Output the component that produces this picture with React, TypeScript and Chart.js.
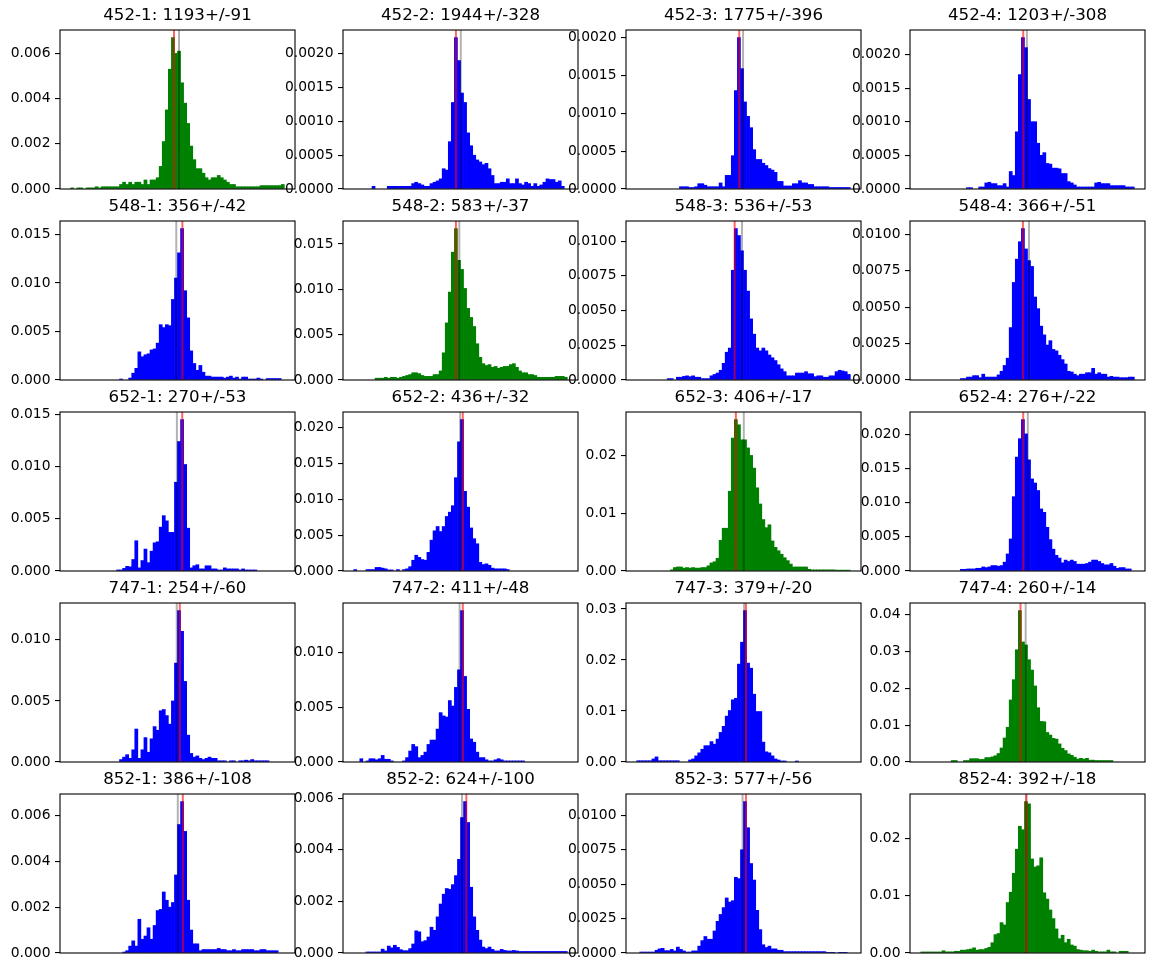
import React, { useEffect, useRef } from "react";
import { Chart, registerables } from "chart.js";

Chart.register(...registerables);

// Histogram densities, 70 equal-width bins per station/channel.
const hist452_1 = [
  0.00005, 0, 0.00005, 0.00005, 0, 0.00005, 0.00005, 0.00005, 0.0001, 0.00005,
  0.0001, 0.0001, 0.0001, 0.0001, 0.0001, 0.0001, 0.0002, 0.0003, 0.0002, 0.0003,
  0.0002, 0.0003, 0.0003, 0.0002, 0.0004, 0.0002, 0.0004, 0.0004, 0.0005, 0.001,
  0.0021, 0.0035, 0.0053, 0.0067, 0.006, 0.0061, 0.0047, 0.0038, 0.0029, 0.0019,
  0.0013, 0.0009, 0.0009, 0.0007, 0.0005, 0.0004, 0.0005, 0.0005, 0.0006, 0.0005,
  0.0004, 0.0003, 0.0002, 0.0002, 0.0001, 0.0001, 0.0001, 0.0001, 0.0001, 0.0001,
  0.0001, 0.0001, 0.00015, 0.00015, 0.00015, 0.00015, 0.00015, 0.00015, 0.00015, 0.0002,
];
const hist452_2 = [
  0, 0, 0, 0, 0, 0, 0.00004, 0, 0, 0,
  0, 0.00004, 0.00004, 0.00004, 0.00004, 0.00004, 0.00004, 0.00004, 0.00004, 0.00008,
  0.0001, 0.00008, 0.00006, 0.00004, 0.00004, 0.00008, 0.0001, 0.00012, 0.00015, 0.0003,
  0.00028, 0.0007, 0.00128, 0.00224, 0.0019, 0.00142, 0.00128, 0.00083, 0.00064, 0.0005,
  0.00043, 0.0004, 0.00036, 0.00038, 0.0003, 0.0002, 0.00008, 0.00008, 0.0001, 0.0001,
  0.00015, 0.00008, 0.00008, 0.00015, 0.00008, 0.00006, 0.0001, 0.00008, 0.00004, 0.00008,
  0.00004, 0.00006, 0.0001, 0.00015, 0.00014, 0.00014, 0.0001, 0.00012, 0.00004, 0,
];
const hist452_3 = [
  0, 0, 0, 0, 0, 0, 0, 0, 0, 0,
  0, 0, 0, 0, 0.00003, 0.00003, 0.00003, 0.00002, 0.00002, 0.00003,
  0.00007, 0.00007, 0.00005, 0.00003, 0.00003, 0.00003, 0.00003, 0.00008, 0.00003, 0.00018,
  0.00018, 0.00044, 0.0013, 0.002, 0.00159, 0.00115, 0.00096, 0.00081, 0.00052, 0.00039,
  0.00039, 0.00034, 0.00031, 0.00027, 0.00025, 0.00022, 0.0001, 0.0001, 0.00004, 0.00004,
  0.00004, 0.00007, 0.00007, 0.00011, 0.00008, 0.00008, 0.00006, 0.00006, 0.00003, 0.00003,
  0.00003, 0.00003, 0.00003, 0.00002, 0.00002, 0.00002, 0.00002, 0.00002, 0.00002, 0.00002,
];
const hist452_4 = [
  0, 0, 0, 0, 0, 0, 0, 0, 0, 0,
  0, 0, 0, 0, 0, 0.00002, 0.00002, 0, 0, 0.00003,
  0.00003, 0.00009, 0.0001, 0.00008, 0.00008, 0.00005, 0.00005, 0.00008, 0.00003, 0.00026,
  0.0002, 0.00085, 0.0017, 0.00225, 0.0021, 0.00133, 0.001, 0.001, 0.00068, 0.0005,
  0.00054, 0.00038, 0.00037, 0.00031, 0.00031, 0.0003, 0.00023, 0.00023, 0.00011, 0.00009,
  0.00006, 0.00003, 0.00003, 0.00003, 0.00003, 0.00003, 0.00003, 0.00009, 0.0001, 0.00008,
  0.00008, 0.00008, 0.00005, 0.00005, 0.00005, 0.00005, 0.00005, 0.00003, 0.00003, 0.00003,
];
const hist548_1 = [
  0, 0, 0, 0, 0, 0, 0, 0, 0, 0,
  0, 0, 0, 0, 0, 0, 0.0001, 0, 0, 0.0002,
  0.0007, 0.0012, 0.0029, 0.0024, 0.0026, 0.0027, 0.0031, 0.0032, 0.0038, 0.0057,
  0.0054, 0.0057, 0.0056, 0.0083, 0.0105, 0.0131, 0.0156, 0.0092, 0.0064, 0.003,
  0.0017, 0.001, 0.0015, 0.0008, 0.0004, 0.0004, 0.0003, 0.0003, 0.0003, 0.0003,
  0.0002, 0.0003, 0.0004, 0.0002, 0.0003, 0.0001, 0.0003, 0.0003, 0.0001, 0.0001,
  0.0001, 0.0002, 0.0001, 0, 0.00015, 0.00015, 0.00015, 0.00015, 0.00015, 0,
];
const hist548_2 = [
  0, 0, 0, 0, 0, 0, 0, 0.0002, 0.0002, 0.0002,
  0.0003, 0.0002, 0.0003, 0.0003, 0.0002, 0.0003, 0.0004, 0.0005, 0.0006, 0.0008,
  0.0008, 0.0007, 0.0005, 0.0004, 0.0004, 0.0004, 0.0006, 0.0006, 0.001, 0.003,
  0.0063, 0.0097, 0.0141, 0.0167, 0.0132, 0.0122, 0.0101, 0.0079, 0.0069, 0.0059,
  0.004, 0.0025, 0.0018, 0.0016, 0.0017, 0.0014, 0.0015, 0.0013, 0.0014, 0.0015,
  0.0015, 0.0017, 0.0018, 0.0014, 0.001, 0.0008, 0.0008, 0.0006, 0.0006, 0.0005,
  0.0003, 0.0003, 0.0003, 0.0003, 0.0003, 0.0003, 0.0004, 0.0004, 0.0004, 0.0003,
];
const hist548_3 = [
  0, 0, 0, 0, 0, 0, 0, 0, 0, 0,
  0.0001, 0.0001, 0, 0.0002, 0.0002, 0.00026, 0.0003, 0.00024, 0.0003, 0.0002,
  0.0002, 0.0001, 0.0001, 0.0001, 0.0003, 0.0004, 0.0005, 0.0007, 0.0012, 0.002,
  0.0023, 0.0079, 0.0109, 0.0104, 0.0093, 0.0079, 0.0064, 0.0044, 0.0033, 0.0023,
  0.0021, 0.0023, 0.0021, 0.0018, 0.0016, 0.0014, 0.0011, 0.0008, 0.0006, 0.0003,
  0.0003, 0.0003, 0.0005, 0.0005, 0.0005, 0.0006, 0.00045, 0.00045, 0.00024, 0.0003,
  0.0003, 0.0002, 0.0002, 0.0003, 0.0003, 0.0006, 0.0007, 0.00065, 0.0006, 0.0004,
];
const hist548_4 = [
  0, 0, 0, 0, 0, 0, 0, 0, 0, 0,
  0, 0, 0, 0.0001, 0.0001, 0.0002, 0.0002, 0.0003, 0.0003, 0.00016,
  0.0004, 0.0002, 0.0002, 0.0002, 0.0002, 0.00035, 0.0006, 0.001, 0.0015, 0.0036,
  0.0067, 0.0083, 0.0095, 0.0104, 0.009, 0.0082, 0.0078, 0.0057, 0.0049, 0.0037,
  0.0031, 0.0024, 0.0027, 0.0021, 0.002, 0.0017, 0.0014, 0.0011, 0.0006, 0.00055,
  0.0004, 0.0003, 0.0004, 0.0004, 0.0005, 0.0005, 0.0008, 0.0004, 0.0005, 0.0004,
  0.0004, 0.0002, 0.00025, 0.0002, 0.0002, 0.00016, 0.00016, 0.00016, 0.0002, 0.0002,
];
const hist652_1 = [
  0, 0, 0, 0, 0, 0, 0, 0, 0, 0,
  0, 0, 0, 0, 0, 0.0001, 0.0001, 0.00025, 0.00045, 0.0004,
  0.0011, 0.0029, 0.0003, 0.001, 0.0021, 0.0008, 0.0019, 0.0027, 0.0028, 0.0042,
  0.0053, 0.0048, 0.0037, 0.0037, 0.0085, 0.0124, 0.0145, 0.0102, 0.0041, 0.0003,
  0.0005, 0.0006, 0.0002, 0.0002, 0.0005, 0.0005, 0.0002, 0.0002, 0.0001, 0.0001,
  0.0003, 0.0002, 0.0002, 0.0002, 0.0002, 0.0001, 0.0002, 0.0001, 0.0001, 0.0001,
  0.0001, 0, 0, 0, 0, 0, 0, 0, 0, 0,
];
const hist652_2 = [
  0.0002, 0, 0, 0, 0.0002, 0.0002, 0.0002, 0.0005, 0.0005, 0.0004,
  0.0003, 0.00015, 0.00015, 0, 0.0002, 0, 0.0002, 0.0003, 0.0006, 0.0015,
  0.0022, 0.0019, 0.0016, 0.0015, 0.0026, 0.0043, 0.0056, 0.0062, 0.0055, 0.0062,
  0.0076, 0.0082, 0.0091, 0.013, 0.018, 0.0211, 0.0111, 0.0089, 0.006, 0.0045,
  0.0038, 0.0012, 0.0009, 0.001, 0.0008, 0.0004, 0.0003, 0.0003, 0.0003, 0.0003,
  0.0002, 0, 0, 0, 0, 0, 0, 0, 0, 0,
  0, 0, 0, 0, 0, 0, 0, 0, 0, 0,
];
const hist652_3 = [
  0, 0, 0, 0, 0, 0, 0, 0, 0, 0,
  0, 0.0002, 0.0006, 0.0007, 0.0007, 0.0005, 0.0006, 0.0005, 0.0006, 0.0005,
  0.0005, 0.0006, 0.0006, 0.0009, 0.0014, 0.0016, 0.0022, 0.0053, 0.0074, 0.0074,
  0.0138, 0.023, 0.0262, 0.0253, 0.0227, 0.0227, 0.0213, 0.02, 0.0178, 0.0144,
  0.0116, 0.0089, 0.0075, 0.008, 0.0052, 0.0041, 0.0035, 0.0029, 0.0023, 0.0018,
  0.0012, 0.0007, 0.0007, 0.0007, 0.0007, 0.0007, 0.0003, 0.0002, 0.0002, 0.0002,
  0.0002, 0.0002, 0.0002, 0.0002, 0.0002, 0.00015, 0.00015, 0.00015, 0.00015, 0.00015,
];
const hist652_4 = [
  0, 0, 0, 0, 0, 0, 0, 0, 0, 0,
  0, 0, 0, 0.00025, 0.00025, 0.0003, 0.0003, 0.0003, 0.0004, 0.0004,
  0.0006, 0.0005, 0.0006, 0.0008, 0.0008, 0.0007, 0.0008, 0.0013, 0.0025, 0.0047,
  0.0109, 0.0167, 0.0194, 0.0222, 0.0201, 0.0163, 0.0135, 0.0129, 0.0118, 0.0091,
  0.0086, 0.0064, 0.0046, 0.0032, 0.0023, 0.0019, 0.0012, 0.0016, 0.0014, 0.0016,
  0.0014, 0.001, 0.001, 0.001, 0.0011, 0.0013, 0.0016, 0.0016, 0.0014, 0.0011,
  0.0009, 0.0009, 0.0011, 0.0007, 0.0004, 0.0005, 0.0005, 0.0003, 0.0003, 0,
];
const hist747_1 = [
  0, 0, 0, 0, 0, 0, 0, 0, 0, 0,
  0, 0, 0, 0, 0, 0, 0.0002, 0.0004, 0.0006, 0.0003,
  0.001, 0.0027, 0.0003, 0.001, 0.002, 0.0008, 0.0019, 0.0029, 0.0026, 0.0042,
  0.0043, 0.0038, 0.0031, 0.005, 0.0081, 0.0124, 0.0107, 0.0066, 0.0022, 0.0007,
  0.0004, 0.0005, 0.0003, 0.0002, 0.0003, 0.0004, 0.0003, 0.0003, 0.0001, 0.0001,
  0.0001, 0, 0.0001, 0.0001, 0, 0.0001, 0.0001, 0.00015, 0.0001, 0.0002,
  0.0001, 0.0001, 0.0001, 0.0001, 0.0001, 0, 0, 0, 0, 0,
];
const hist747_2 = [
  0, 0, 0.0003, 0, 0.0001, 0.0003, 0.0003, 0.0002, 0.0003, 0.0006,
  0.00025, 0.00025, 0.0001, 0, 0, 0, 0.0001, 0.0004, 0.001, 0.0016,
  0.0014, 0.0004, 0.0006, 0.0009, 0.0016, 0.002, 0.002, 0.003, 0.0045, 0.0042,
  0.0041, 0.0056, 0.0051, 0.0068, 0.0084, 0.0138, 0.0078, 0.0048, 0.0021, 0.0018,
  0.0009, 0.0004, 0.0004, 0.0002, 0.0001, 0.0001, 0.0002, 0.0003, 0.0002, 0.0001,
  0.0001, 0.0001, 0.0001, 0.0001, 0.0001, 0.0001, 0, 0, 0, 0,
  0, 0, 0, 0, 0, 0, 0, 0, 0, 0,
];
const hist747_3 = [
  0.00025, 0.00025, 0.00025, 0.00025, 0.00025, 0.0006, 0.001, 0.00025, 0.00025, 0.00025,
  0.00025, 0.00025, 0.00025, 0.00025, 0, 0, 0, 0.0004, 0.0006, 0.0012,
  0.0018, 0.0025, 0.0032, 0.0032, 0.004, 0.0035, 0.0045, 0.0058, 0.007, 0.009,
  0.0101, 0.0122, 0.0125, 0.0192, 0.0235, 0.0297, 0.0194, 0.0184, 0.0133, 0.0099,
  0.0099, 0.0039, 0.002, 0.0018, 0.0012, 0.0006, 0.0004, 0.0002, 0.0002, 0,
  0, 0, 0.0002, 0, 0, 0, 0, 0, 0, 0,
  0, 0, 0, 0, 0, 0, 0, 0, 0, 0,
];
const hist747_4 = [
  0, 0, 0, 0, 0, 0, 0, 0, 0, 0,
  0.0004, 0.0004, 0, 0, 0.0004, 0.0004, 0.0009, 0.0009, 0.0009, 0.0007,
  0.0007, 0.0012, 0.0012, 0.0014, 0.0017, 0.0023, 0.0038, 0.0065, 0.0094, 0.0168,
  0.0223, 0.0304, 0.041, 0.0325, 0.0317, 0.0277, 0.0249, 0.0206, 0.0147, 0.011,
  0.0109, 0.008, 0.0073, 0.0064, 0.0062, 0.0049, 0.0037, 0.0031, 0.0022, 0.0018,
  0.0013, 0.0008, 0.001, 0.0008, 0.001, 0.0005, 0.0005, 0.0004, 0.0004, 0.0004,
  0.0004, 0.0004, 0.0004, 0, 0, 0, 0, 0, 0, 0,
];
const hist852_1 = [
  0, 0, 0, 0, 0, 0, 0, 0, 0, 0,
  0, 0, 0, 0, 0, 0, 0, 0.00004, 0.0001, 0.0003,
  0.00053, 0.0003, 0.00147, 0.0006, 0.00074, 0.0011, 0.0006, 0.0012, 0.00185, 0.0019,
  0.00266, 0.0023, 0.002, 0.0022, 0.0034, 0.0056, 0.0066, 0.0053, 0.0023, 0.001,
  0.0004, 0.0004, 0.0001, 0.00015, 0.00015, 0.00015, 0.00015, 0.00015, 0.0002, 0.00015,
  0.00015, 0.0001, 0.0001, 0.00015, 0.0001, 0.0001, 0.00015, 0.00015, 0.00015, 0.00015,
  0.0001, 0.0001, 0.00015, 0.00015, 0.0001, 0.0001, 0.0001, 0.0001, 0, 0,
];
const hist852_2 = [
  0, 0, 0, 0, 0.00004, 0.00004, 0.00004, 0.00004, 0.00004, 0.00015,
  0.00008, 0.00027, 0.0002, 0.0003, 0.00022, 0.00013, 0.00009, 0.00009, 0.00017, 0.00035,
  0.00086, 0.00082, 0.00044, 0.00048, 0.00062, 0.001, 0.00088, 0.0014, 0.0019, 0.00228,
  0.0025, 0.00247, 0.00265, 0.003, 0.00363, 0.00525, 0.00587, 0.00506, 0.00255, 0.0014,
  0.00088, 0.0005, 0.00023, 0.00017, 0.00023, 0.00014, 0.00008, 0.00008, 0.00014, 0.0001,
  0.00008, 0.00008, 0.0001, 0.00008, 0.00006, 0.00006, 0.00006, 0.00006, 0.00006, 0.00006,
  0.00006, 0.00006, 0.00006, 0.00006, 0.00006, 0.00006, 0.00006, 0.00006, 0.00006, 0.00006,
];
const hist852_3 = [
  0, 0.00007, 0.00007, 0.00007, 0.00007, 0.00007, 0.0002, 0.0003, 0.00034, 0.00017,
  0.00017, 0.00026, 0.00015, 0.00043, 0.00026, 0.00015, 0.00007, 0.00007, 0.00015, 0.00015,
  0.0005, 0.0009, 0.0012, 0.001, 0.001, 0.0016, 0.0023, 0.0028, 0.0033, 0.004,
  0.0037, 0.0038, 0.0055, 0.0054, 0.0075, 0.011, 0.0091, 0.0065, 0.0053, 0.0031,
  0.0017, 0.0006, 0.0004, 0.0005, 0.0003, 0.0003, 0.0002, 0.0002, 0.0001, 0.0001,
  0.0001, 0.0001, 0.0001, 0.0001, 0.0001, 0.0001, 0.0001, 0.0001, 0.0001, 0.0001,
  0.0001, 0.0001, 0.00005, 0.00005, 0.00005, 0, 0.00005, 0.00005, 0.00005, 0,
];
const hist852_4 = [
  0.00018, 0.00018, 0.00018, 0.00018, 0.00018, 0.00018, 0.00018, 0.0004, 0.0002, 0.0002,
  0.0002, 0.0003, 0.0003, 0.0005, 0.0005, 0.0006, 0.0007, 0.0009, 0.0005, 0.0006,
  0.0006, 0.0008, 0.001, 0.0018, 0.0032, 0.0034, 0.0053, 0.0049, 0.0088, 0.0106,
  0.0139, 0.0181, 0.0221, 0.0215, 0.0264, 0.026, 0.0164, 0.015, 0.0152, 0.0166,
  0.0105, 0.0094, 0.0075, 0.006, 0.0042, 0.0025, 0.0031, 0.0018, 0.0024, 0.0014,
  0.0012, 0.0006, 0.0005, 0.0004, 0.0004, 0.0003, 0.0005, 0.0003, 0.0002, 0.0002,
  0.0002, 0.0005, 0.0002, 0.0002, 0, 0.0003, 0.0003, 0.0003, 0, 0,
];

const panelSeries = [
  hist452_1, hist452_2, hist452_3, hist452_4,
  hist548_1, hist548_2, hist548_3, hist548_4,
  hist652_1, hist652_2, hist652_3, hist652_4,
  hist747_1, hist747_2, hist747_3, hist747_4,
  hist852_1, hist852_2, hist852_3, hist852_4,
];

const panelTitles = [
  "452-1: 1193+/-91", "452-2: 1944+/-328", "452-3: 1775+/-396", "452-4: 1203+/-308",
  "548-1: 356+/-42", "548-2: 583+/-37", "548-3: 536+/-53", "548-4: 366+/-51",
  "652-1: 270+/-53", "652-2: 436+/-32", "652-3: 406+/-17", "652-4: 276+/-22",
  "747-1: 254+/-60", "747-2: 411+/-48", "747-3: 379+/-20", "747-4: 260+/-14",
  "852-1: 386+/-108", "852-2: 624+/-100", "852-3: 577+/-56", "852-4: 392+/-18",
];

const panelColors = [
  "green", "blue", "blue", "blue",
  "blue", "green", "blue", "blue",
  "blue", "blue", "green", "blue",
  "blue", "blue", "blue", "green",
  "blue", "blue", "blue", "green",
];

// Marker positions in bin units: mode (red) and reference (gray) lines.
const modeLines = [
  33.85, 33.5, 33.6, 33.6,
  36.6, 33.5, 32.1, 33.5,
  36.55, 35.75, 32.5, 33.6,
  35.75, 35.75, 35.8, 32.7,
  36.75, 36.9, 35.8, 34.6,
];
const refLines = [
  35.5, 35.1, 34.85, 34.8,
  34.6, 34.6, 34.5, 35.5,
  34.8, 34.9, 35.1, 35.1,
  34.75, 34.7, 35.2, 34.4,
  35.1, 35.5, 34.7, 34.6,
];

const ticks3a = ["0.000", "0.002", "0.004", "0.006"];
const ticks4a = ["0.0000", "0.0005", "0.0010", "0.0015", "0.0020"];
const ticks3b = ["0.000", "0.005", "0.010", "0.015"];
const ticks4b = ["0.0000", "0.0025", "0.0050", "0.0075", "0.0100"];
const ticks3c = ["0.000", "0.005", "0.010", "0.015", "0.020"];
const ticks2a = ["0.00", "0.01", "0.02"];
const ticks3d = ["0.000", "0.005", "0.010"];
const ticks2b = ["0.00", "0.01", "0.02", "0.03"];
const ticks2c = ["0.00", "0.01", "0.02", "0.03", "0.04"];

const yTickLabels = [
  ticks3a, ticks4a, ticks4a, ticks4a,
  ticks3b, ticks3b, ticks4b, ticks4b,
  ticks3b, ticks3c, ticks2a, ticks3c,
  ticks3d, ticks3d, ticks2b, ticks2c,
  ticks3a, ticks3a, ticks4b, ticks2a,
];

const BINS = 70;
const FONT = "DejaVu Sans";
const PLOT_W = 235;
const PLOT_H = 159;
const PAD_L = 60;
const PAD_T = 30;
const PAD_R = 2;
const PAD_B = 16;
const COL_X = [60, 343, 626, 910];
const ROW_Y = [30, 221, 412, 603, 794];

const framePlugin = {
  id: "axesFrame",
  afterDraw(chart: any) {
    const { ctx, chartArea: a } = chart;
    ctx.save();
    ctx.strokeStyle = "#000";
    ctx.lineWidth = 1.1;
    ctx.strokeRect(a.left, a.top, a.right - a.left, a.bottom - a.top);
    ctx.restore();
  },
};

function HistPanel({ idx }: { idx: number }) {
  const ref = useRef<HTMLCanvasElement | null>(null);

  useEffect(() => {
    const values = panelSeries[idx];
    const labels = yTickLabels[idx];
    const yMax = Math.max(...values) * 1.05;
    const bars = values
      .map((v, k) => ({ x: k + 0.5, y: v }))
      .filter((p) => p.y > 0);
    const vline = (x: number) => [
      { x, y: 0 },
      { x, y: yMax },
    ];

    const chart = new Chart(ref.current as HTMLCanvasElement, {
      type: "bar",
      data: {
        datasets: [
          {
            type: "bar",
            data: bars as any,
            backgroundColor: panelColors[idx],
            borderWidth: 0,
            barPercentage: 1,
            categoryPercentage: 1,
            order: 3,
          },
          {
            type: "line",
            data: vline(refLines[idx]) as any,
            borderColor: "rgba(0,0,0,0.3)",
            borderWidth: 2,
            pointRadius: 0,
            order: 2,
          },
          {
            type: "line",
            data: vline(modeLines[idx]) as any,
            borderColor: "rgba(255,0,0,0.6)",
            borderWidth: 2,
            pointRadius: 0,
            order: 1,
          },
        ],
      },
      options: {
        responsive: false,
        animation: false,
        events: [],
        layout: { padding: { left: 0, top: 0, right: PAD_R, bottom: PAD_B } },
        plugins: {
          legend: { display: false },
          tooltip: { enabled: false },
          title: {
            display: true,
            fullSize: false,
            align: "center",
            text: panelTitles[idx],
            color: "#000",
            font: { family: FONT, size: 16.67, weight: "normal", lineHeight: 1.2 },
            padding: { top: 5.9, bottom: 4.1 },
          },
        },
        scales: {
          x: {
            type: "linear",
            display: false,
            offset: false,
            min: -BINS * 0.05,
            max: BINS * 1.05,
          },
          y: {
            type: "linear",
            position: "left",
            bounds: "data",
            min: 0,
            max: yMax,
            afterFit: (s: any) => {
              s.width = PAD_L;
            },
            afterBuildTicks: (s: any) => {
              s.ticks = labels.map((t) => ({ value: parseFloat(t) }));
            },
            grid: {
              drawOnChartArea: false,
              drawTicks: true,
              tickLength: 5,
              color: "#000",
              lineWidth: 1.1,
            },
            border: { display: false },
            ticks: {
              color: "#000",
              font: { family: FONT, size: 13.89 },
              padding: 4.5,
              autoSkip: false,
              callback: (_v: any, i: number) => labels[i],
            },
          },
        },
      } as any,
      plugins: [framePlugin],
    });
    return () => chart.destroy();
  }, [idx]);

  const col = idx % 4;
  const row = Math.floor(idx / 4);
  const w = PAD_L + PLOT_W + PAD_R;
  const h = PAD_T + PLOT_H + PAD_B;
  return (
    <canvas
      ref={ref}
      width={w}
      height={h}
      style={{
        position: "absolute",
        left: COL_X[col] - PAD_L,
        top: ROW_Y[row] - PAD_T,
        width: w,
        height: h,
      }}
    />
  );
}

export default function App() {
  return (
    <div
      style={{
        position: "absolute",
        left: 0,
        top: 0,
        width: 1154,
        height: 972,
        background: "#fff",
        overflow: "hidden",
      }}
    >
      {panelTitles.map((_, i) => (
        <HistPanel key={i} idx={i} />
      ))}
    </div>
  );
}
